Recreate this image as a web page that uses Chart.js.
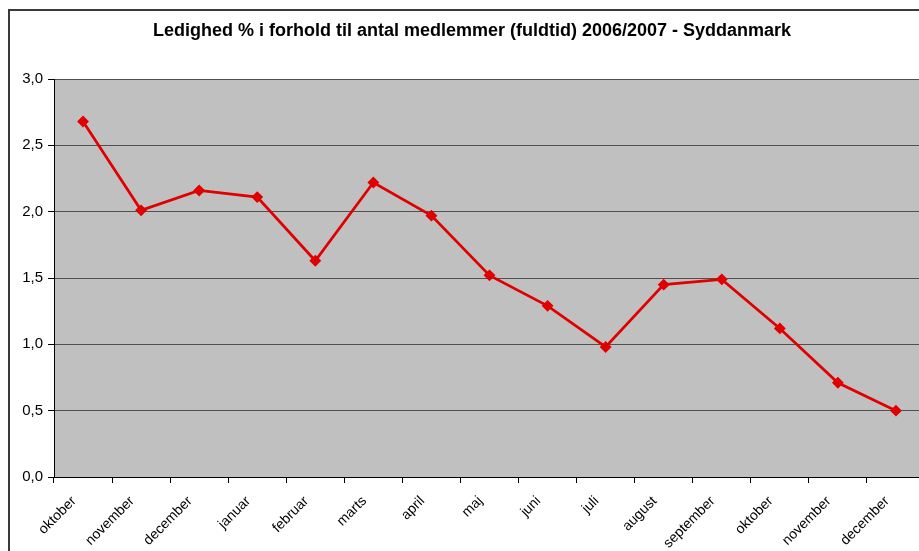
<!DOCTYPE html>
<html>
<head>
<meta charset="utf-8">
<script src="https://cdn.jsdelivr.net/npm/chart.js@4/dist/chart.umd.min.js"></script>
<style>
html,body{margin:0;padding:0;overflow:hidden;background:#fff;}
#wrap{position:absolute;left:0;top:0;width:944px;height:580px;}
</style>
</head>
<body>
<div id="wrap"><canvas id="c" width="944" height="580"></canvas></div>
<script>
const categories = ["oktober","november","december","januar","februar","marts","april","maj","juni","juli","august","september","oktober","november","december"];
const values = [2.68, 2.01, 2.16, 2.11, 1.63, 2.22, 1.97, 1.52, 1.29, 0.98, 1.45, 1.49, 1.12, 0.71, 0.50];
const yTicks = [0, 0.5, 1.0, 1.5, 2.0, 2.5, 3.0];
const titleText = "Ledighed % i forhold til antal medlemmer (fuldtid) 2006/2007 - Syddanmark";

const FONT = "'Liberation Sans', Arial, sans-serif";

const bgPlugin = {
  id: 'bg',
  beforeDraw(chart) {
    const a = chart.chartArea, ctx = chart.ctx;
    ctx.save();
    ctx.fillStyle = '#c0c0c0';
    ctx.fillRect(a.left, a.top, a.right - a.left, a.bottom - a.top);
    ctx.restore();
  },
  afterDraw(chart) {
    const ctx = chart.ctx;
    ctx.save();
    ctx.strokeStyle = '#3a3a3a';
    ctx.lineWidth = 2;
    ctx.strokeRect(9, 10, 2000, 2000);
    ctx.restore();
  }
};

new Chart(document.getElementById('c'), {
  type: 'line',
  data: {
    labels: categories,
    datasets: [{
      data: values,
      borderColor: '#e00000',
      backgroundColor: '#e00000',
      borderWidth: 2.75,
      pointStyle: 'rectRot',
      pointRadius: 4,
      pointHoverRadius: 4,
      tension: 0,
      fill: false
    }]
  },
  options: {
    responsive: false,
    animation: false,
    devicePixelRatio: 1,
    layout: { padding: { left: 19, right: 19, top: 0, bottom: 0 } },
    plugins: {
      legend: { display: false },
      tooltip: { enabled: false },
      title: {
        display: true,
        text: titleText,
        color: '#000',
        font: { family: FONT, size: 18, weight: 'bold', lineHeight: 1.2 },
        padding: { top: 20, bottom: 37.4 }
      }
    },
    scales: {
      x: {
        offset: true,
        grid: { display: true, offset: true, drawOnChartArea: false, tickLength: 6, color: '#000', tickColor: '#000' },
        border: { display: true, color: '#000', width: 1 },
        ticks: {
          color: '#000',
          font: { family: FONT, size: 14 },
          maxRotation: 45, minRotation: 45,
          autoSkip: false,
          padding: 10,
          labelOffset: -9
        },
        afterFit(scale) { scale.height = 103; }
      },
      y: {
        min: 0, max: 3,
        afterBuildTicks(scale) { scale.ticks = yTicks.map(v => ({ value: v })); },
        grid: { color: '#505050', tickColor: '#000', tickLength: 6, lineWidth: 1 },
        border: { display: true, color: '#000', width: 1 },
        ticks: {
          color: '#000',
          font: { family: FONT, size: 15 },
          padding: 5,
          callback: v => Number(v).toFixed(1).replace('.', ',')
        },
        afterFit(scale) { scale.width = 35; }
      }
    }
  },
  plugins: [bgPlugin]
});
</script>
</body>
</html>
